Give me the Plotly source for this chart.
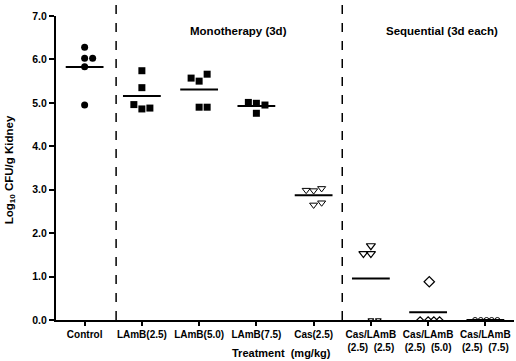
import plotly.graph_objects as go

# ---- data ----
categories = ["Control", "LAmB(2.5)", "LAmB(5.0)", "LAmB(7.5)", "Cas(2.5)",
              "Cas/LAmB<br>(2.5)  (2.5)", "Cas/LAmB<br>(2.5)  (5.0)", "Cas/LAmB<br>(2.5)  (7.5)"]
control = [6.28, 6.03, 6.03, 5.83, 4.95]
lamb_25 = [5.74, 5.35, 4.96, 4.86, 4.88]
lamb_50 = [5.57, 5.50, 5.66, 4.90, 4.90]
lamb_75 = [5.01, 4.99, 4.95, 4.76]
cas_25 = [2.99, 2.98, 3.03, 2.65, 2.70]
cas_lamb_25 = [1.53, 1.53, 1.71, 0.0, 0.0]
cas_lamb_50 = [0.88, 0.0, 0.0, 0.0, 0.0]
cas_lamb_75 = [0.0, 0.0, 0.0, 0.0, 0.0]
y_ticks = [0, 1, 2, 3, 4, 5, 6, 7]
y_tick_labels = ["0.0", "1.0", "2.0", "3.0", "4.0", "5.0", "6.0", "7.0"]

# horizontal scatter offsets (layout only)
offsets = [
    [0, 0, 0.14, 0, 0],
    [0, 0, -0.14, 0, 0.14],
    [-0.14, 0, 0.14, 0, 0.14],
    [-0.14, 0, 0.15, 0],
    [-0.13, 0, 0.14, 0, 0.14],
    [-0.13, 0, 0, 0, 0.13],
    [0.02, -0.14, 0, 0.1, 0.2],
    [-0.18, -0.08, 0.02, 0.11, 0.21],
]

groups = [control, lamb_25, lamb_50, lamb_75, cas_25, cas_lamb_25, cas_lamb_50, cas_lamb_75]
styles = [
    dict(symbol="circle", size=7, color="black", line=dict(width=0)),
    dict(symbol="square", size=7, color="black", line=dict(width=0)),
    dict(symbol="square", size=7, color="black", line=dict(width=0)),
    dict(symbol="square", size=7, color="black", line=dict(width=0)),
    dict(symbol="triangle-down-open", size=7, color="black", line=dict(width=1)),
    dict(symbol="triangle-down-open", size=8, color="black", line=dict(width=1.2)),
    dict(symbol="diamond-open", size=8, color="black", line=dict(width=1.2)),
    dict(symbol="circle-open", size=5, color="black", line=dict(width=1)),
]

fig = go.Figure()

for i, (vals, offs, st) in enumerate(zip(groups, offsets, styles)):
    st = dict(st)
    # points sitting on the axis are drawn smaller (mostly hidden by the axis line)
    st["size"] = [st["size"] if v > 0 else 5 for v in vals]
    st["opacity"] = 1
    fig.add_trace(go.Scatter(
        x=[i + o for o in offs], y=vals, mode="markers",
        marker=st, showlegend=False, hoverinfo="skip"))

# mean lines
mx, my = [], []
for i, vals in enumerate(groups):
    m = sum(vals) / len(vals)
    mx += [i - 0.33, i + 0.33, None]
    my += [m, m, None]
fig.add_trace(go.Scatter(x=mx, y=my, mode="lines",
                         line=dict(color="black", width=2),
                         showlegend=False, hoverinfo="skip"))

# dashed separators
for xv in [0.55, 4.5]:
    fig.add_shape(type="line", xref="x", yref="paper", x0=xv, x1=xv, y0=0, y1=1.04,
                  line=dict(color="black", width=1.5, dash="dash"))

bold = dict(family="Liberation Sans, Arial, sans-serif", color="black", weight="bold")

fig.add_annotation(text="Monotherapy (3d)", x=2.68, y=0.977, xref="x", yref="paper",
                   showarrow=False, font=dict(size=11.5, **bold))
fig.add_annotation(text="Sequential (3d each)", x=6.24, y=0.977, xref="x", yref="paper",
                   showarrow=False, font=dict(size=11.5, **bold))
fig.add_annotation(text="Treatment  (mg/kg)", x=0.493, y=-0.108, xref="paper", yref="paper",
                   yanchor="middle", showarrow=False, font=dict(size=11, **bold))
fig.add_annotation(text="Log<sub>10</sub> CFU/g Kidney", x=-0.1, y=0.493, xref="paper",
                   yref="paper", textangle=-90, xanchor="center", yanchor="middle",
                   showarrow=False, font=dict(size=11.5, **bold))

fig.update_layout(
    width=516, height=361,
    margin=dict(l=56, r=2, t=16, b=41),
    paper_bgcolor="white", plot_bgcolor="white",
    xaxis=dict(range=[-0.5, 7.5], tickvals=list(range(len(categories))),
               ticktext=categories, showgrid=False, zeroline=False, automargin=False,
               showline=True, linecolor="black", linewidth=2,
               ticks="outside", ticklen=4, tickwidth=1.5, tickcolor="black",
               tickfont=dict(size=10, **bold)),
    yaxis=dict(range=[0, 7], tickvals=y_ticks, ticktext=y_tick_labels, automargin=False,
               showgrid=False, zeroline=False, showline=True, linecolor="black",
               linewidth=2, ticks="outside", ticklen=5, tickwidth=1.5,
               tickcolor="black", tickfont=dict(size=10.5, **bold)),
)

fig.write_html("out.html", config={"displayModeBar": False},
               post_script="document.body.style.margin='0';document.body.style.padding='0';")
